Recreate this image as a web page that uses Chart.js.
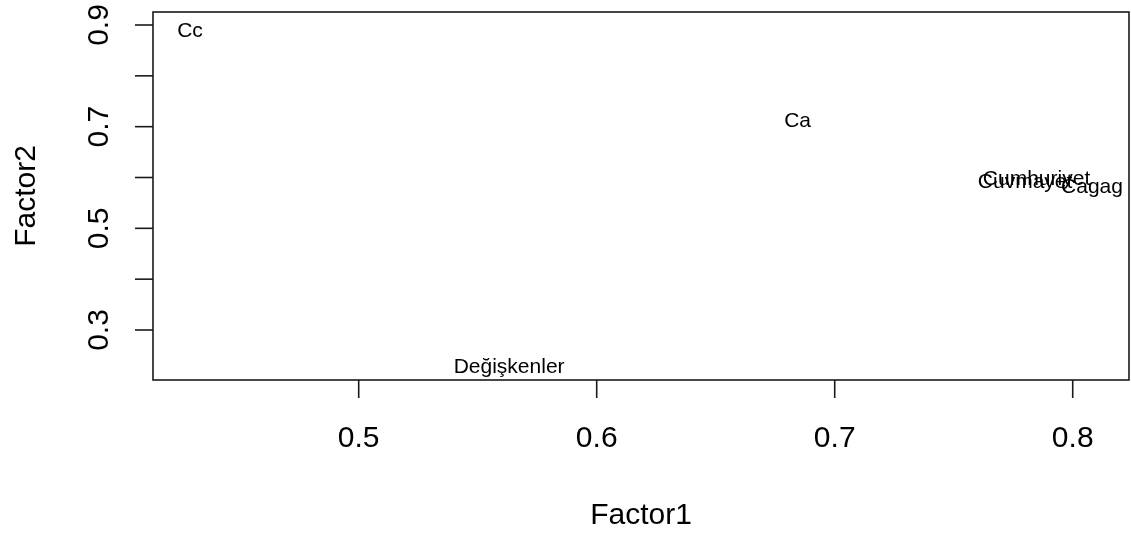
<!DOCTYPE html>
<html>
<head>
<meta charset="utf-8">
<script src="https://cdn.jsdelivr.net/npm/chart.js@4/dist/chart.umd.min.js"></script>
<style>
  html, body { margin: 0; padding: 0; background: #ffffff; }
  #wrap { width: 1131px; height: 533px; position: relative; }
</style>
</head>
<body>
<div id="wrap"><canvas id="c" width="1131" height="533"></canvas></div>
<script>
// ---- data ----
const labels  = ["Cc", "Ca", "Değişkenler", "Cuvmayet", "Cumhuriyet", "Cagag"];
const factor1 = [0.4291, 0.6844, 0.5632, 0.7800, 0.7848, 0.8081];
const factor2 = [0.8917, 0.7148, 0.2296, 0.5947, 0.6006, 0.5849];
const xTicks = [0.5, 0.6, 0.7, 0.8];
const xTickLabels = ["0.5", "0.6", "0.7", "0.8"];
const yTicks = [0.3, 0.4, 0.5, 0.6, 0.7, 0.8, 0.9];
const yTickLabels = ["0.3", "", "0.5", "", "0.7", "", "0.9"];
const xTitle = "Factor1";
const yTitle = "Factor2";

const points = factor1.map((x, i) => ({ x: x, y: factor2[i] }));

const FONT = '"Liberation Sans", Arial, sans-serif';

const rPlot = {
  id: 'rPlot',
  afterDatasetsDraw(chart) {
    const ctx = chart.ctx;
    const a = chart.chartArea;
    const xs = chart.scales.x, ys = chart.scales.y;
    ctx.save();
    // box
    ctx.strokeStyle = '#1a1a1a';
    ctx.lineWidth = 1.6;
    ctx.strokeRect(a.left, a.top, a.right - a.left, a.bottom - a.top);
    // x ticks
    ctx.fillStyle = '#000';
    ctx.font = '30px ' + FONT;
    ctx.textAlign = 'center';
    ctx.textBaseline = 'alphabetic';
    xTicks.forEach((v, i) => {
      const px = xs.getPixelForValue(v);
      ctx.beginPath();
      ctx.moveTo(px, a.bottom);
      ctx.lineTo(px, a.bottom + 18);
      ctx.stroke();
      ctx.fillText(xTickLabels[i], px, a.bottom + 67);
    });
    // y ticks
    yTicks.forEach((v, i) => {
      const py = ys.getPixelForValue(v);
      ctx.beginPath();
      ctx.moveTo(a.left, py);
      ctx.lineTo(a.left - 18, py);
      ctx.stroke();
      if (yTickLabels[i]) {
        ctx.save();
        ctx.translate(a.left - 45, py);
        ctx.rotate(-Math.PI / 2);
        ctx.fillText(yTickLabels[i], 0, 0);
        ctx.restore();
      }
    });
    // titles
    ctx.fillText(xTitle, (a.left + a.right) / 2, 524);
    ctx.save();
    ctx.translate(35, (a.top + a.bottom) / 2);
    ctx.rotate(-Math.PI / 2);
    ctx.fillText(yTitle, 0, 0);
    ctx.restore();
    // point labels
    ctx.font = '21px ' + FONT;
    const meta = chart.getDatasetMeta(0);
    meta.data.forEach((el, i) => {
      ctx.fillText(labels[i], el.x, el.y + 7.5);
    });
    ctx.restore();
  }
};

new Chart(document.getElementById('c'), {
  type: 'scatter',
  data: {
    datasets: [{
      data: points,
      pointRadius: 0,
      pointHoverRadius: 0,
      showLine: false
    }]
  },
  options: {
    responsive: false,
    animation: false,
    events: [],
    layout: { padding: { left: 153, right: 2, top: 12, bottom: 153 } },
    plugins: { legend: { display: false }, tooltip: { enabled: false } },
    scales: {
      x: { type: 'linear', min: 0.41357, max: 0.82365, display: false },
      y: { type: 'linear', min: 0.20163, max: 0.92558, display: false }
    }
  },
  plugins: [rPlot]
});
</script>
</body>
</html>
